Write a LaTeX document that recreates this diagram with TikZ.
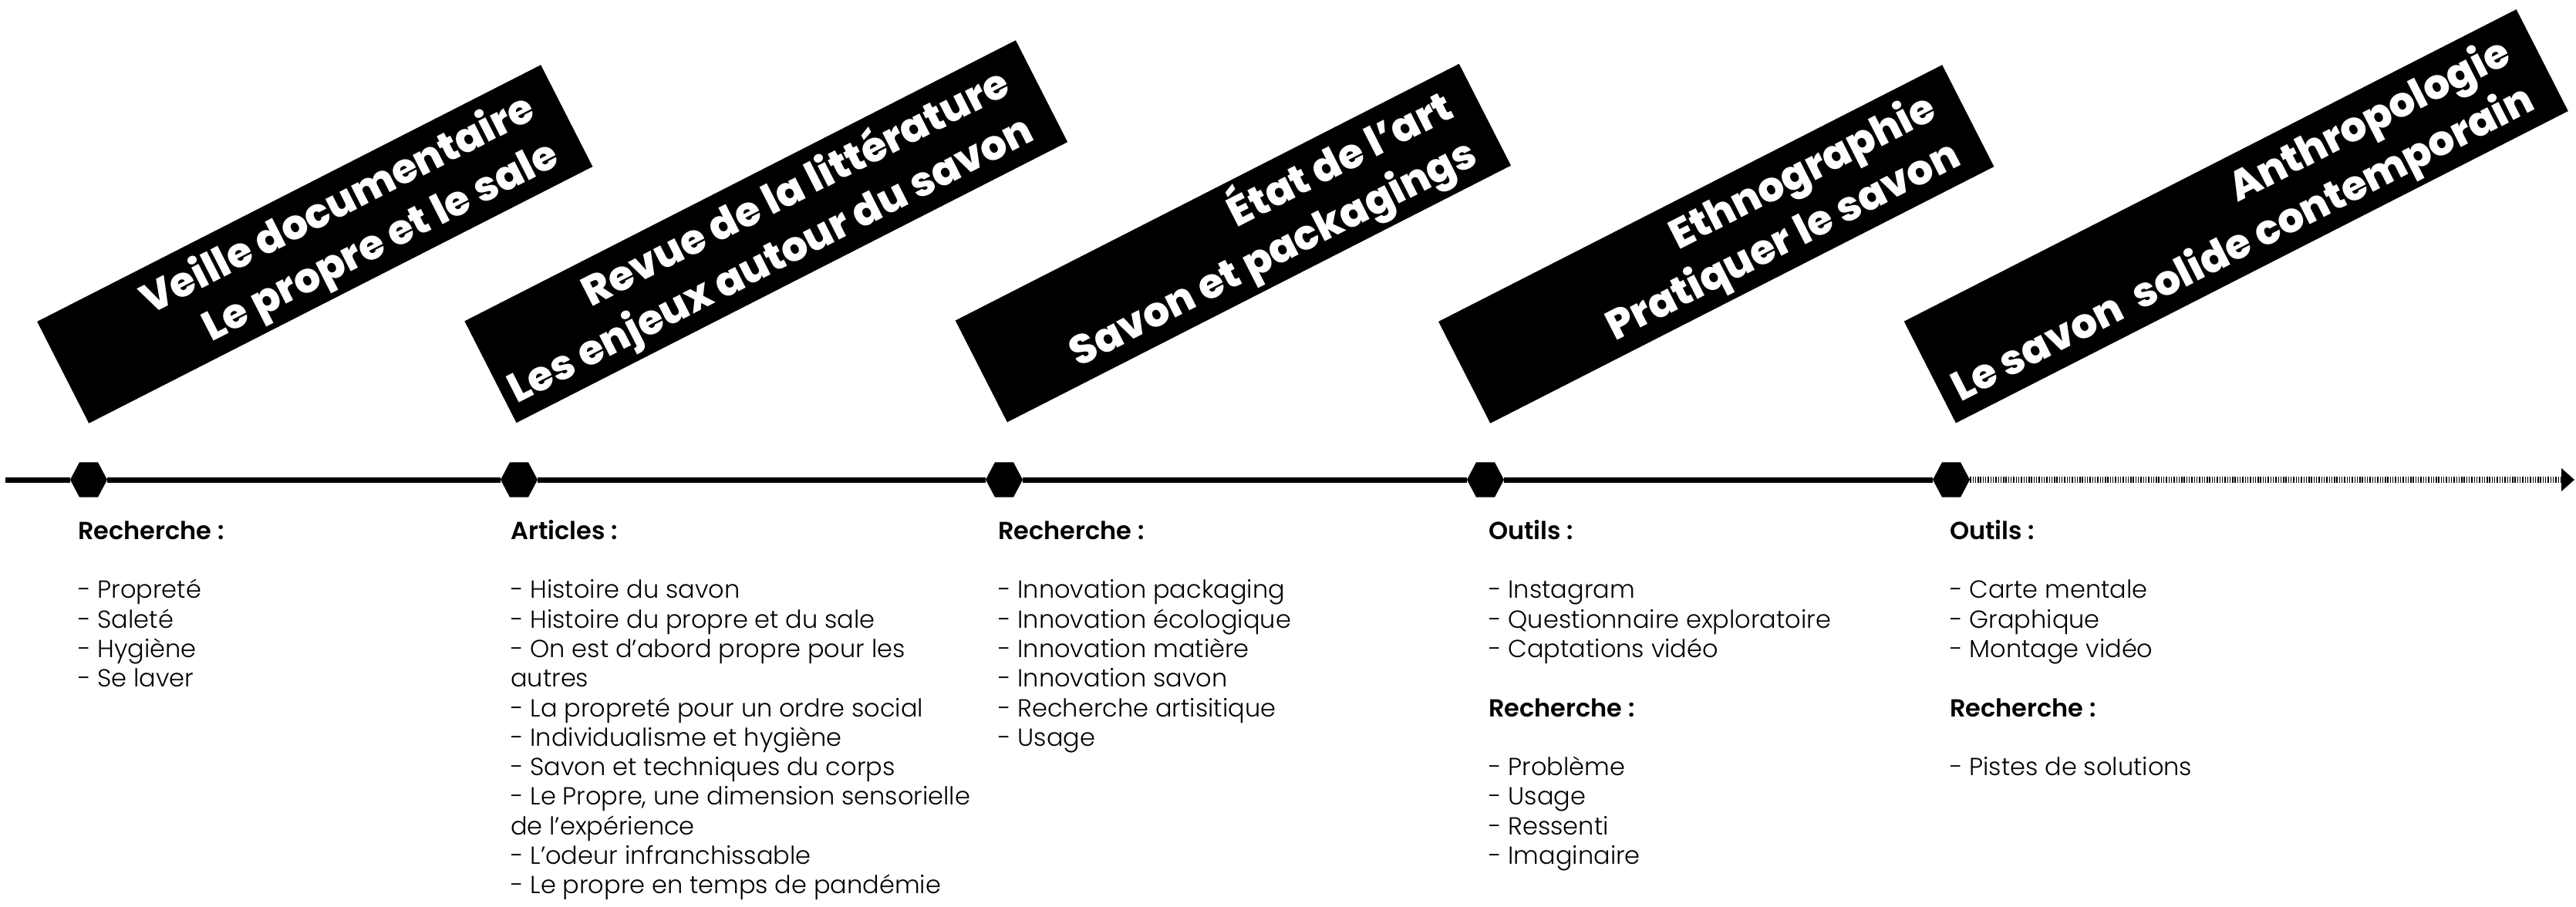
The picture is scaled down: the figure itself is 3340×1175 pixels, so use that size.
\documentclass[tikz,border=0pt]{standalone}
\usepackage{fontspec}
\setmainfont{Poppins}[UprightFont={* Light},BoldFont={* SemiBold}]
\newfontfamily\bannerfont{Poppins ExtraBold}
\usetikzlibrary{arrows.meta,shapes.geometric}

\begin{document}
\begin{tikzpicture}[x=1pt,y=-1pt]
\tikzset{
  banner/.style={fill=black,inner sep=0pt,minimum height=148pt,transform shape},
  bantext/.style={text=white,inner sep=0pt,anchor=south east,align=right,transform shape,
    font=\bannerfont\fontsize{53.5}{68}\selectfont},
  hexa/.style={regular polygon,regular polygon sides=6,fill=black,inner sep=0pt,
    minimum size=48pt,yscale=1.09},
  timeline/.style={draw=black,line width=7pt},
  future/.style={draw=black,line width=8pt,dash pattern=on 1.4pt off 1.9pt,
    -{Triangle[length=17pt,width=29pt]}},
  coltext/.style={anchor=north west,inner sep=0pt,align=left,
    font=\fontsize{32}{38.3}\selectfont}
}
\newcommand\lastdepth{\rule[-20pt]{0pt}{0pt}}
\useasboundingbox (0,0) rectangle (3340,1175);

% banners
\begin{scope}[shift={(408.25,316.5)},rotate=27]
\node[banner,minimum width=733pt] (b1) at (0,0) {};
\node[bantext] (b1txt) at (332,73) {Veille documentaire\\Le propre et le sale\lastdepth};
\end{scope}
\begin{scope}[shift={(993.25,300.25)},rotate=27]
\node[banner,minimum width=802pt] (b2) at (0,0) {};
\node[bantext] (b2txt) at (366.5,73) {Revue de la littérature\\Les enjeux autour du savon\lastdepth};
\end{scope}
\begin{scope}[shift={(1598.85,315.1)},rotate=27]
\node[banner,minimum width=733pt] (b3) at (0,0) {};
\node[bantext] (b3txt) at (332,73) {État de l’art\\Savon et packagings\lastdepth};
\end{scope}
\begin{scope}[shift={(2225.25,316.5)},rotate=27]
\node[banner,minimum width=733pt] (b4) at (0,0) {};
\node[bantext] (b4txt) at (332,73) {Ethnographie\\Pratiquer le savon\lastdepth};
\end{scope}
\begin{scope}[shift={(2899.25,280.35)},rotate=27]
\node[banner,minimum width=891pt] (b5) at (0,0) {};
\node[bantext] (b5txt) at (411,73) {Anthropologie\\Le savon\ \ solide contemporain\lastdepth};
\end{scope}

% timeline
\coordinate (start) at (7,622);
\coordinate (end) at (3338,622);
\node[hexa] (h1) at (115,622) {};
\node[hexa] (h2) at (673,622) {};
\node[hexa] (h3) at (1302,622) {};
\node[hexa] (h4) at (1926,622) {};
\node[hexa] (h5) at (2530,622) {};
\draw[timeline] (start) -- (h1);
\draw[timeline] (h1) -- (h2);
\draw[timeline] (h2) -- (h3);
\draw[timeline] (h3) -- (h4);
\draw[timeline] (h4) -- (h5);
\draw[future] (h5) -- (end);

% columns
\node[coltext] (c1) at (101,669) {\rule{0pt}{30pt}\textbf{Recherche :}\\[38.3pt]
- Propreté\\- Saleté\\- Hygiène\\- Se laver};
\node[coltext] (c2) at (662,669) {\rule{0pt}{30pt}\textbf{Articles :}\\[38.3pt]
- Histoire du savon\\- Histoire du propre et du sale\\
- On est d’abord propre pour les\\autres\\
- La propreté pour un ordre social\\- Individualisme et hygiène\\
- Savon et techniques du corps\\
- Le Propre, une dimension sensorielle\\de l’expérience\\
- L’odeur infranchissable\\- Le propre en temps de pandémie};
\node[coltext] (c3) at (1294,669) {\rule{0pt}{30pt}\textbf{Recherche :}\\[38.3pt]
- Innovation packaging\\- Innovation écologique\\- Innovation matière\\
- Innovation savon\\- Recherche artisitique\\- Usage};
\node[coltext] (c4) at (1930,669) {\rule{0pt}{30pt}\textbf{Outils :}\\[38.3pt]
- Instagram\\- Questionnaire exploratoire\\- Captations vidéo\\[38.3pt]
\textbf{Recherche :}\\[38.3pt]
- Problème\\- Usage\\- Ressenti\\- Imaginaire};
\node[coltext] (c5) at (2528,669) {\rule{0pt}{30pt}\textbf{Outils :}\\[38.3pt]
- Carte mentale\\- Graphique\\- Montage vidéo\\[38.3pt]
\textbf{Recherche :}\\[38.3pt]
- Pistes de solutions};
\end{tikzpicture}
\end{document}
